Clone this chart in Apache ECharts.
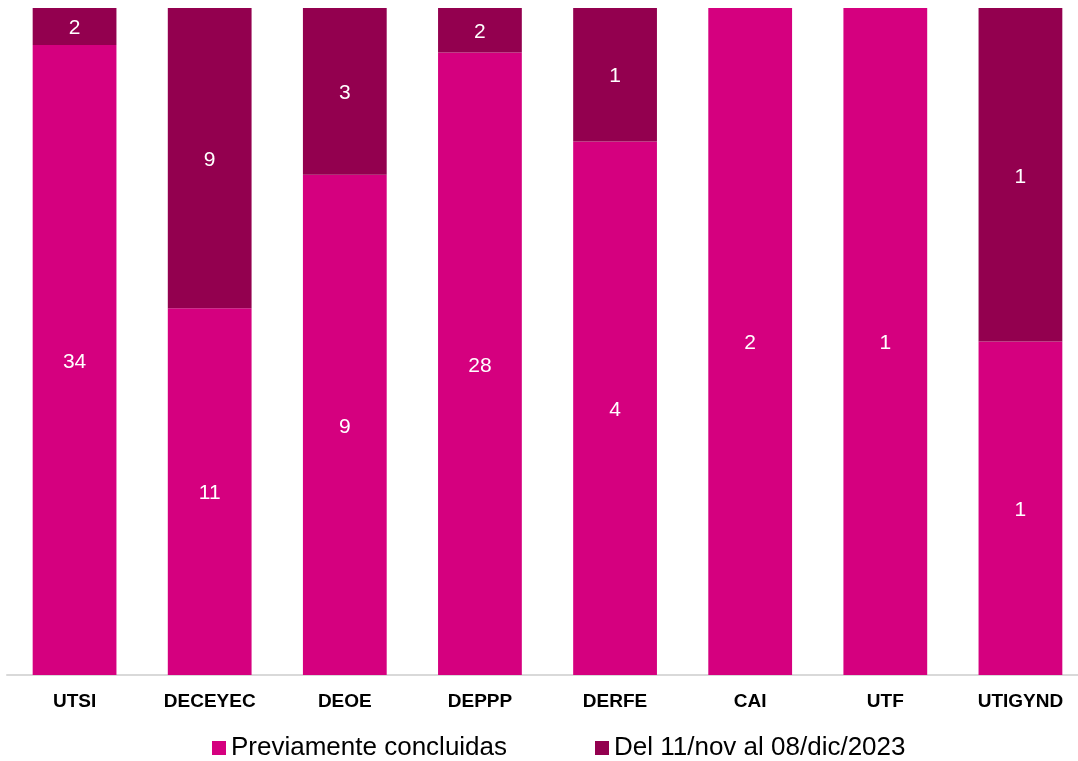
<!DOCTYPE html>
<html>
<head>
<meta charset="utf-8">
<script src="https://cdn.jsdelivr.net/npm/echarts@6/dist/echarts.min.js"></script>
<style>html,body{margin:0;padding:0;background:#fff;}#c{width:1078px;height:761px;}</style>
</head>
<body>
<div id="c"></div>
<script>
var categories = ['UTSI','DECEYEC','DEOE','DEPPP','DERFE','CAI','UTF','UTIGYND'];
var previas = [34, 11, 9, 28, 4, 2, 1, 1];
var periodo = [2, 9, 3, 2, 1, 0, 0, 1];
var seriesNames = ['Previamente concluidas', 'Del 11/nov al 08/dic/2023'];

var totals = categories.map(function(_, i){ return previas[i] + periodo[i]; });
function pct(arr){
  return arr.map(function(v, i){ return { value: totals[i] ? v / totals[i] * 100 : 0, raw: v }; });
}
var FONT = 'Liberation Sans, Arial, sans-serif';
var labelOpt = {
  show: true, position: 'inside', color: '#fff', fontSize: 21, fontFamily: FONT, offset: [0, 2],
  formatter: function(p){ return p.data.raw ? String(p.data.raw) : ''; }
};
var legendText = { fontSize: 26, color: '#000', fontFamily: FONT };
var chart = echarts.init(document.getElementById('c'));
chart.setOption({
  animation: false,
  grid: { left: 7, top: 8, width: 1081, height: 667, containLabel: false, outerBoundsMode: 'none' },
  legend: [
    { top: 730, left: 207, itemWidth: 14, itemHeight: 14, itemGap: 5, icon: 'rect',
      textStyle: legendText, data: [seriesNames[0]] },
    { top: 730, left: 590, itemWidth: 14, itemHeight: 14, itemGap: 5, icon: 'rect',
      textStyle: legendText, data: [seriesNames[1]] }
  ],
  xAxis: {
    type: 'category', data: categories,
    axisLine: { lineStyle: { color: '#d9d9d9', width: 2 } },
    axisTick: { show: false },
    axisLabel: { color: '#000', fontWeight: 'bold', fontSize: 19, margin: 17, fontFamily: FONT }
  },
  yAxis: { type: 'value', min: 0, max: 100, show: false, splitLine: { show: false } },
  series: [
    { name: seriesNames[0], type: 'bar', stack: 's', barCategoryGap: '38%',
      itemStyle: { color: '#D5007F' }, label: labelOpt, data: pct(previas) },
    { name: seriesNames[1], type: 'bar', stack: 's', barCategoryGap: '38%',
      itemStyle: { color: '#93004F' }, label: labelOpt, data: pct(periodo) }
  ]
});
</script>
</body>
</html>
